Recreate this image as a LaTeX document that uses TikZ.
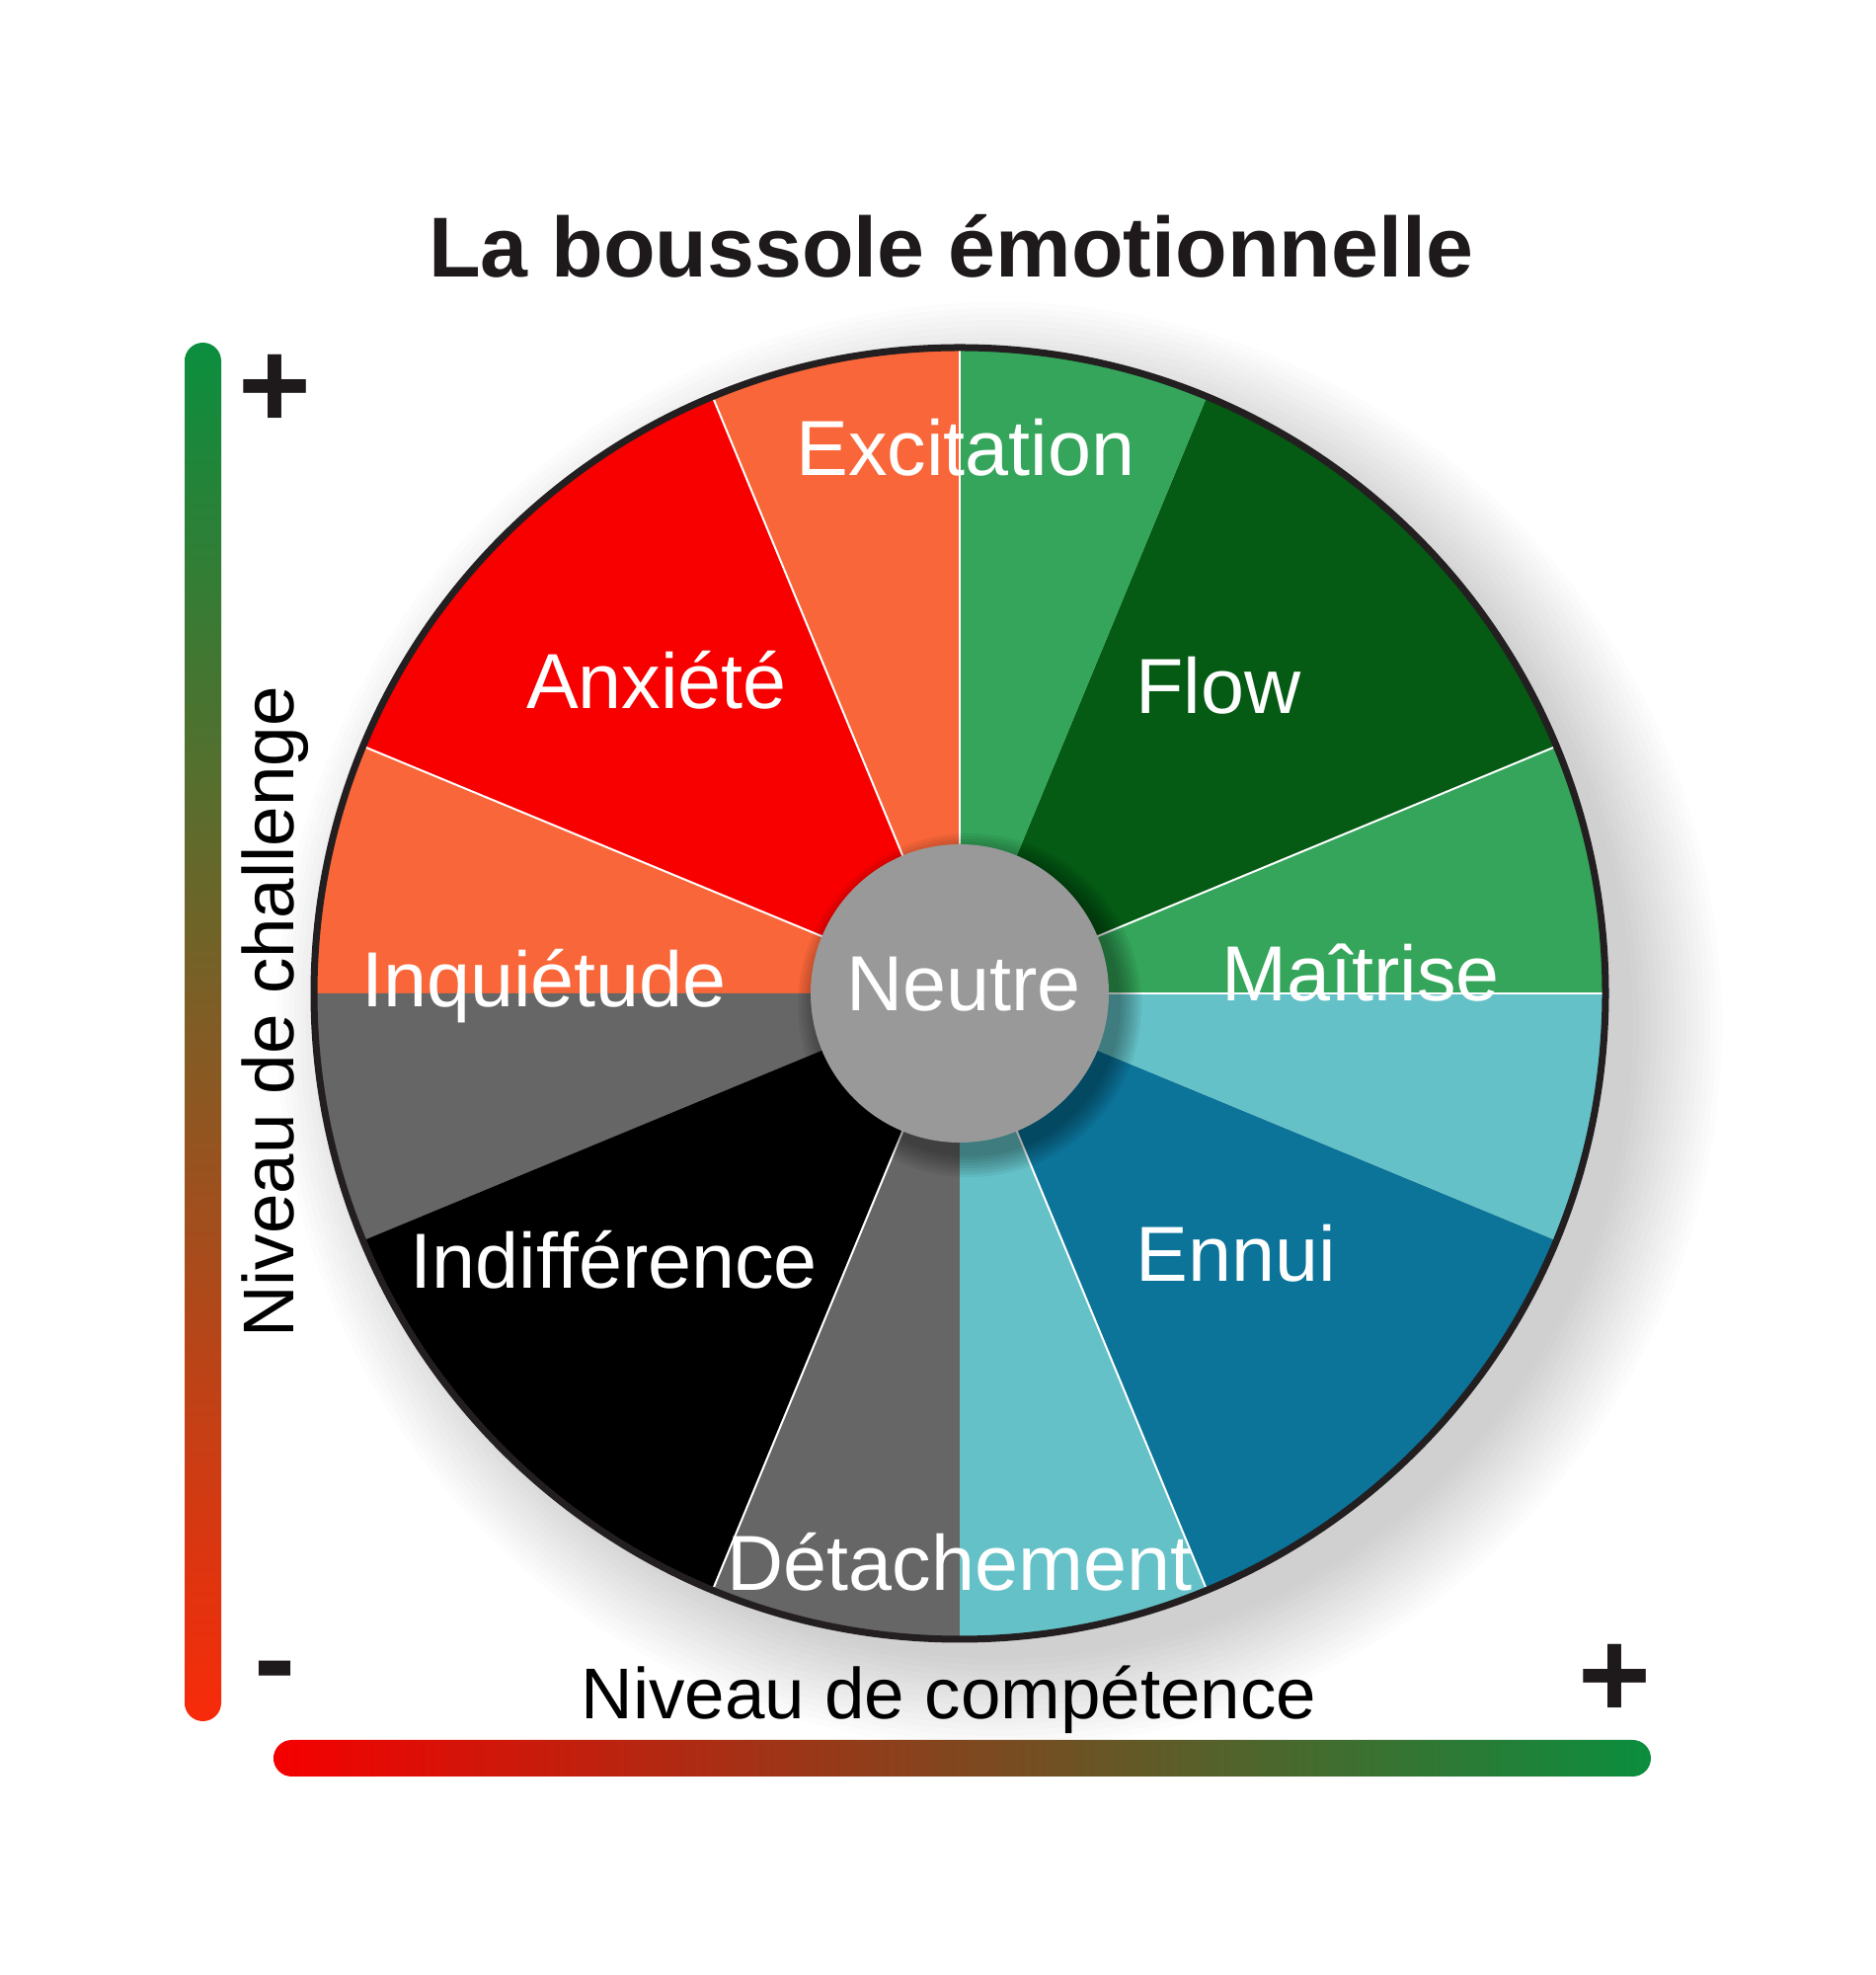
\documentclass[tikz,border=0pt]{standalone}
\usepackage{fontspec}
\setmainfont{Liberation Sans}
\usepackage{tikz}
\usetikzlibrary{calc}
\definecolor{WheelOrange}{HTML}{F96639}
\definecolor{WheelRed}{HTML}{F80000}
\definecolor{WheelGreen}{HTML}{34A55A}
\definecolor{WheelDarkGreen}{HTML}{055A14}
\definecolor{WheelTeal}{HTML}{64C1C7}
\definecolor{WheelBlue}{HTML}{0C7399}
\definecolor{WheelGrey}{HTML}{666666}
\definecolor{WheelBlack}{HTML}{000000}
\definecolor{HubGrey}{HTML}{999999}
\definecolor{RimDark}{HTML}{231F20}
\definecolor{InkText}{HTML}{1E1A1B}
\definecolor{BarGreen}{HTML}{0B8E3E}
\definecolor{BarBrown}{HTML}{A54E1C}
\definecolor{BarRed}{HTML}{F82A0A}
\definecolor{AxisRed}{HTML}{F50000}
\definecolor{AxisBrown}{HTML}{B03418}

\begin{document}
\begin{tikzpicture}[x=0.01cm,y=0.01cm,
        lab/.style={text=white,font=\fontsize{22.5}{27}\selectfont,anchor=base,inner sep=0pt},
        axislab/.style={text=black,font=\fontsize{20.7}{25}\selectfont,anchor=base,inner sep=0pt},
        sign/.style={text=InkText,font=\fontsize{36}{40}\selectfont\bfseries,anchor=base,inner sep=0pt},
        sep/.style={draw=white,line width=0.2mm}]
      \useasboundingbox (0,0) rectangle (1900,2000);
      \coordinate (O) at (972,994);
      \foreach \i in {1,...,16}
        \fill[black,opacity=0.01] ($(O)+(40,-32)$) circle ({636+6*\i});
      \foreach \a/\b/\c in {0/22.5/WheelGreen,22.5/67.5/WheelDarkGreen,67.5/90/WheelGreen,
          90/112.5/WheelOrange,112.5/157.5/WheelRed,157.5/180/WheelOrange,
          180/202.5/WheelGrey,202.5/247.5/WheelBlack,247.5/270/WheelGrey,
          270/292.5/WheelTeal,292.5/337.5/WheelBlue,337.5/360/WheelTeal}
        \fill[\c] (O) -- ++(\a:654) arc[start angle=\a,end angle=\b,radius=654] -- cycle;
      \foreach \a in {0,22.5,90,112.5,157.5,247.5,292.5}
        \draw[sep] (O) -- ++(\a:654);
      \foreach \i in {1,...,8}
        \fill[black,opacity=0.05] ($(O)+(10,-12)$) circle ({150+3*\i});
      \fill[HubGrey] (O) circle (151);
      \draw[RimDark,line width=0.7mm] (O) circle (654);
      \shade[top color=BarGreen,middle color=BarBrown,bottom color=BarRed,rounded corners=0.185cm]
        (187,257) rectangle (224,1653);
      \shade[left color=AxisRed,middle color=AxisBrown,right color=BarGreen,rounded corners=0.185cm]
        (277,201) rectangle (1672,238);
      \node[anchor=base,text=InkText,font=\fontsize{24.5}{29}\selectfont\bfseries] (title) at (963,1719)
        {La boussole émotionnelle};
      \node[lab] (excitation)   at (978,1518) {Excitation};
      \node[lab] (anxiete)      at (665,1282) {Anxiété};
      \node[lab] (flow)         at (1234,1277) {Flow};
      \node[lab] (inquietude)   at (551,980) {Inquiétude};
      \node[lab] (neutre)       at (976,976) {Neutre};
      \node[lab] (maitrise)     at (1378,986) {Maîtrise};
      \node[lab] (indifference) at (622,695) {Indifférence};
      \node[lab] (ennui)        at (1252,702) {Ennui};
      \node[lab] (detachement)  at (972,389) {Détachement};
      \node[axislab] (competence) at (961,259) {Niveau de compétence};
      \node[axislab,rotate=90] (challenge) at (297,975) {Niveau de challenge};
      \node[sign] (plushigh)  at (278,1566) {+};
      \node[sign] (minuslow)  at (278.5,277) {-};
      \node[sign] (plusright) at (1635,260) {+};
    \end{tikzpicture}
\end{document}
